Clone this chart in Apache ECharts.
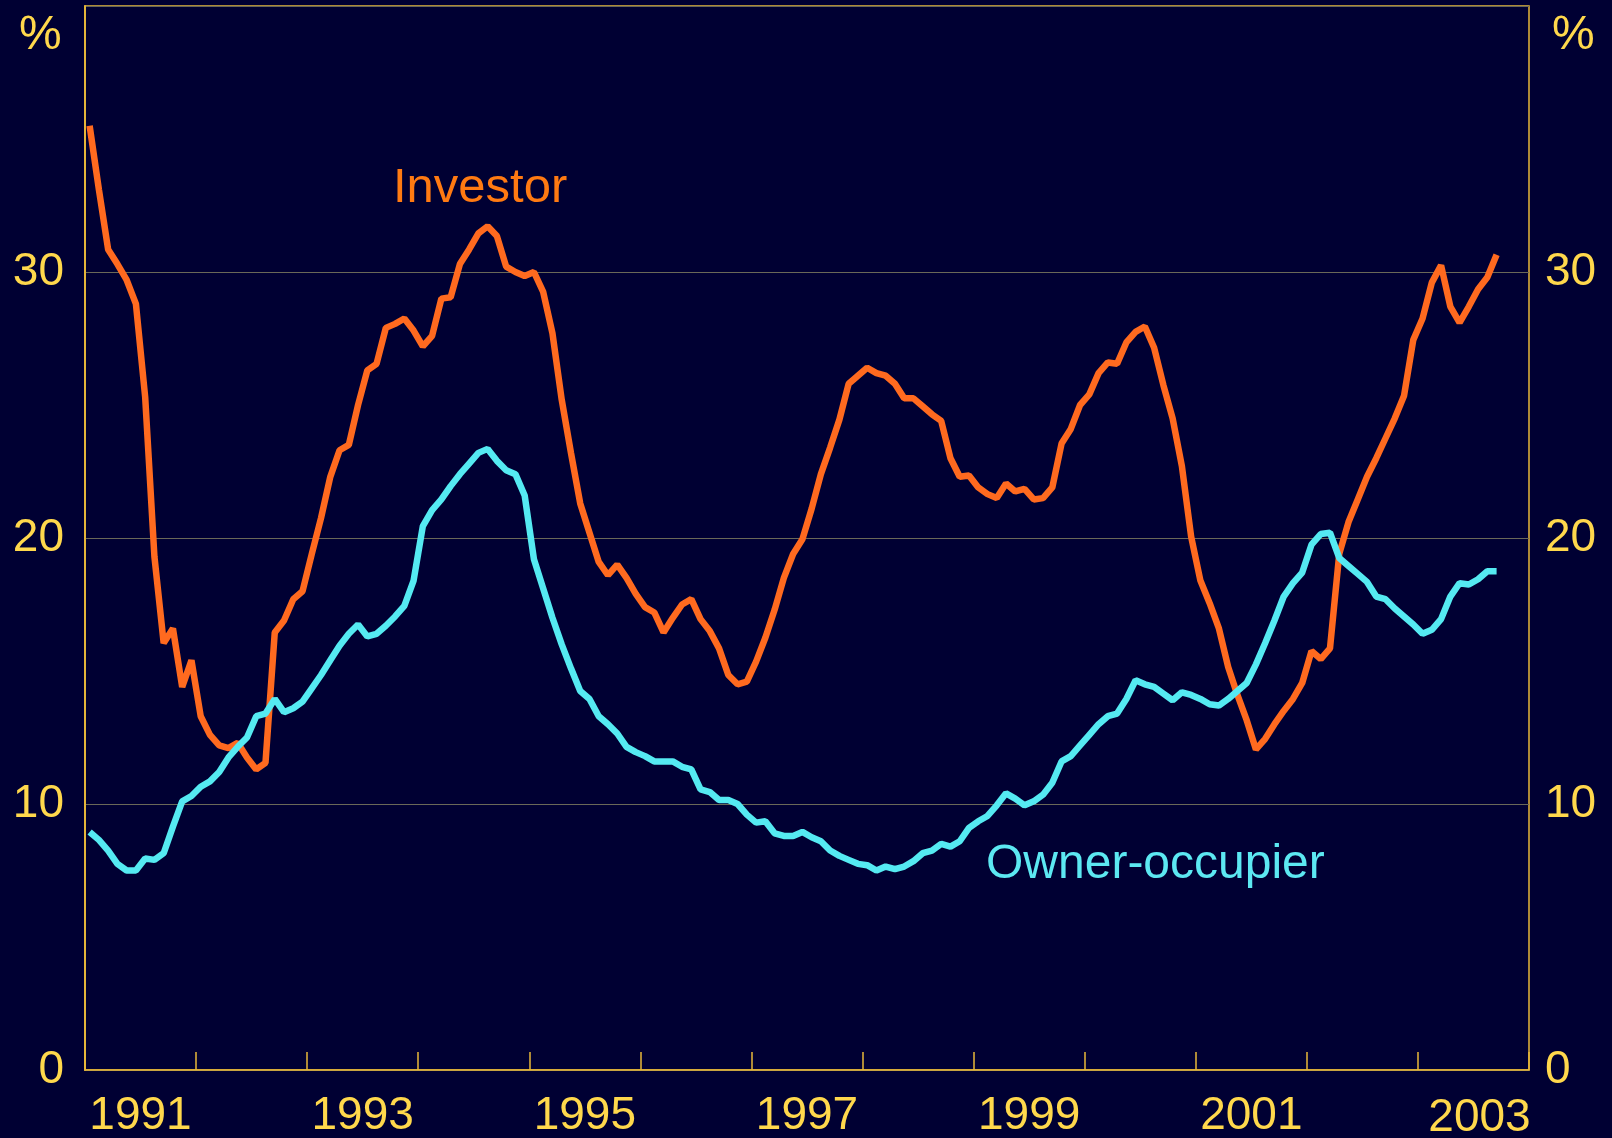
<!DOCTYPE html>
<html><head><meta charset="utf-8">
<script src="https://cdn.jsdelivr.net/npm/echarts@6.0.0/dist/echarts.min.js"></script>
<style>html,body{margin:0;padding:0;background:#000033;} #c{width:1612px;height:1138px;}</style>
</head><body><div id="c"></div><script>
// Monthly data, Jan 1991 .. Sep 2003 (per cent)
const startYear = 1991;
const axisYears = 13; // 1991..2003 inclusive
const yearLabels = ['1991','1993','1995','1997','1999','2001','2003'];
const yTickValues = [0, 10, 20, 30];
const investor = [
 35.5,33.1,30.85,30.3,29.7,28.8,25.3,19.3,16.05,16.6,14.4,15.4,
 13.3,12.6,12.2,12.1,12.3,11.75,11.3,11.55,16.45,16.9,17.7,18.0,
 19.4,20.75,22.3,23.3,23.5,25.0,26.3,26.55,27.9,28.05,28.25,27.8,
 27.2,27.6,29.0,29.05,30.3,30.85,31.45,31.72,31.35,30.2,30.0,29.85,
 30.0,29.25,27.7,25.2,23.2,21.3,20.2,19.1,18.6,19.0,18.5,17.9,
 17.4,17.2,16.45,17.0,17.5,17.7,16.95,16.5,15.85,14.85,14.5,14.6,
 15.35,16.25,17.3,18.5,19.4,19.95,21.1,22.4,23.4,24.45,25.8,26.1,
 26.4,26.2,26.1,25.8,25.25,25.25,24.95,24.65,24.4,23.0,22.3,22.35,
 21.9,21.65,21.5,22.05,21.75,21.85,21.45,21.5,21.9,23.55,24.1,25.0,
 25.4,26.2,26.6,26.55,27.35,27.75,27.95,27.15,25.75,24.5,22.7,20.05,
 18.4,17.55,16.6,15.15,14.1,13.15,12.05,12.45,13.0,13.5,13.95,14.55,
 15.75,15.45,15.85,19.4,20.6,21.45,22.3,23.0,23.75,24.5,25.35,27.45,
 28.25,29.6,30.25,28.7,28.1,28.7,29.35,29.8,30.65
];
const ownerOccupier = [
 8.95,8.65,8.25,7.75,7.5,7.5,7.95,7.9,8.15,9.15,10.1,10.3,
 10.65,10.85,11.2,11.75,12.15,12.5,13.3,13.4,13.95,13.45,13.6,13.85,
 14.35,14.85,15.4,15.95,16.4,16.75,16.3,16.4,16.7,17.05,17.45,18.4,
 20.45,21.05,21.45,21.95,22.4,22.8,23.2,23.35,22.9,22.55,22.4,21.6,
 19.2,18.1,17.0,16.0,15.1,14.25,13.95,13.3,13.0,12.65,12.15,11.95,
 11.8,11.6,11.6,11.6,11.4,11.3,10.55,10.45,10.15,10.15,10.0,9.6,
 9.3,9.35,8.9,8.8,8.8,8.95,8.75,8.6,8.25,8.05,7.9,7.75,
 7.7,7.5,7.65,7.55,7.65,7.85,8.15,8.25,8.5,8.4,8.6,9.1,
 9.35,9.55,9.95,10.4,10.2,9.95,10.1,10.35,10.8,11.6,11.8,12.2,
 12.6,13.0,13.3,13.4,13.95,14.65,14.5,14.4,14.15,13.9,14.2,14.1,
 13.95,13.75,13.7,13.95,14.25,14.55,15.25,16.05,16.9,17.8,18.3,18.7,
 19.75,20.15,20.2,19.25,18.95,18.65,18.35,17.8,17.7,17.35,17.05,16.75,
 16.4,16.55,16.95,17.8,18.3,18.25,18.45,18.75,18.75
];

const GOLD = '#E8B83A';
const TXT = '#FFD84C';
const FONT = '"Liberation Sans", Arial, sans-serif';
const toPts = arr => arr.map((v, i) => [i + 0.5, v]);
const maxMonths = axisYears * 12;

const chart = echarts.init(document.getElementById('c'), null, {renderer: 'canvas'});
chart.setOption({
  backgroundColor: '#000033',
  animation: false,
  grid: {left: 85, right: 83, top: 6, bottom: 68, show: true, borderColor: GOLD, borderWidth: 1.5,
         backgroundColor: 'transparent', containLabel: false, outerBoundsMode: 'none'},
  xAxis: [
    {type: 'value', min: 0, max: maxMonths, interval: 12, position: 'bottom',
     axisLine: {show: true, lineStyle: {color: GOLD, width: 1.5}},
     axisTick: {show: true, inside: true, length: 18, lineStyle: {color: GOLD, width: 1.5}},
     axisLabel: {show: false}, splitLine: {show: false}},
    {type: 'value', min: 0, max: maxMonths, interval: 6, position: 'bottom', offset: 0,
     axisLine: {show: false}, axisTick: {show: false}, splitLine: {show: false},
     axisLabel: {show: true, margin: 23, color: TXT, fontSize: 46, lineHeight: 46, fontFamily: FONT,
       showMinLabel: true, showMaxLabel: true,
       formatter: v => {
         if (v % 12 !== 6) return '';
         const y = String(startYear + (v - 6) / 12);
         if (yearLabels.indexOf(y) < 0) return '';
         return y === '2003' ? '{s|' + y + '}' : y;
       },
       rich: {s: {color: TXT, fontSize: 46, lineHeight: 46, fontFamily: FONT, padding: [5, 0, 0, 12]}}
     }}
  ],
  yAxis: [
    {type: 'value', min: 0, max: 40, interval: 10, position: 'left',
     axisLine: {show: true, lineStyle: {color: GOLD, width: 1.5}}, axisTick: {show: false},
     splitLine: {show: true, lineStyle: {color: '#6a6858', width: 1}},
     axisLabel: {margin: 21, color: TXT, fontSize: 46, fontFamily: FONT,
       formatter: v => yTickValues.indexOf(v) >= 0 ? String(v) : ''}},
    {type: 'value', min: 0, max: 40, interval: 10, position: 'right',
     axisLine: {show: true, lineStyle: {color: GOLD, width: 1.5}}, axisTick: {show: false},
     splitLine: {show: false},
     axisLabel: {margin: 16, color: TXT, fontSize: 46, fontFamily: FONT,
       formatter: v => yTickValues.indexOf(v) >= 0 ? String(v) : ''}}
  ],
  series: [
    {name: 'Investor', type: 'line', xAxisIndex: 0, yAxisIndex: 0, data: toPts(investor),
     showSymbol: false, lineStyle: {color: '#FF6A1F', width: 6.5}, itemStyle: {color: '#FF6A1F'}, z: 3},
    {name: 'Owner-occupier', type: 'line', xAxisIndex: 0, yAxisIndex: 0, data: toPts(ownerOccupier),
     showSymbol: false, lineStyle: {color: '#55EAF2', width: 6.5}, itemStyle: {color: '#55EAF2'}, z: 4}
  ],
  graphic: [
    {type: 'text', left: 19, top: 12, style: {text: '%', fill: TXT, font: '48px ' + FONT}},
    {type: 'text', left: 1552, top: 12, style: {text: '%', fill: TXT, font: '48px ' + FONT}},
    {type: 'text', left: 393, top: 164, style: {text: 'Investor', fill: '#FF7A12', font: '49px ' + FONT}},
    {type: 'text', left: 986, top: 841, style: {text: 'Owner-occupier', fill: '#5CE8F2', font: '48px ' + FONT}}
  ]
});
</script></body></html>
